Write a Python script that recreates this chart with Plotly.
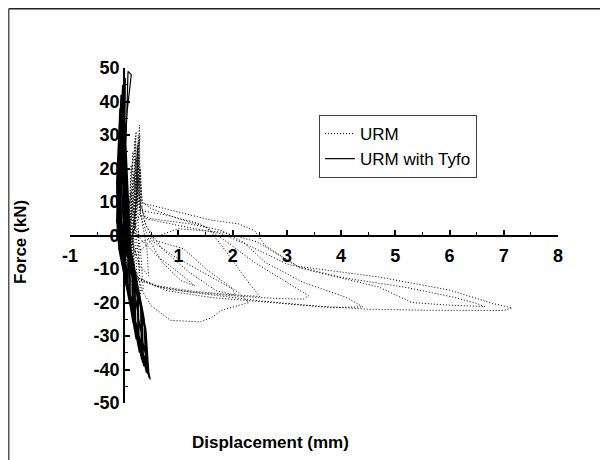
import plotly.graph_objects as go

# ---------------- data ----------------
# URM (unreinforced masonry) hysteresis: displacement (mm) and force (kN)
urm_disp = [
    0.00, 0.04, 0.07, 0.03, 0.01, 0.04, 0.06,
    0.09, 0.12, 0.07, 0.03, 0.08, 0.11,
    0.13, 0.17, 0.11, 0.05, 0.12, 0.18, 0.17,
    0.19, 0.21, 0.15, 0.07, 0.16, 0.28, 0.27,
    0.24, 0.24, 0.19, 0.12, 0.28, 0.45, 0.42,
    0.15, 0.22, 0.18, 0.10, 0.18, 0.24, 0.20,
    0.20, 0.26, 0.22, 0.14, 0.20, 0.30, 0.26,
    0.12, 0.16, 0.13, 0.06, 0.10, 0.15, 0.12,
    0.25, 0.29, 0.24, 0.15, 0.22, 0.35, 0.30,
    0.10, 0.13, 0.10, 0.04, 0.08, 0.14, 0.10,
    0.30, 0.28, 0.24, 0.19,
    # loop 1
    0.30, 0.60, 1.00, 1.30, 1.05, 0.70, 0.45, 0.30, 0.22, 0.20, 0.17, 0.10,
    # loop 2
    0.20, 0.50, 0.90, 1.50, 2.00, 2.05, 1.70, 1.20, 0.70, 0.40, 0.30, 0.27, 0.22, 0.12,
    # loop 3
    0.20, 0.35, 0.50, 0.85, 1.40, 1.60, 1.80, 2.30, 2.10, 1.53, 1.10, 0.53, 0.35, 0.30, 0.26, 0.20, 0.10,
    # loop 4
    0.20, 0.60, 1.20, 1.90, 2.50, 2.30, 1.82, 1.53, 1.00, 0.50, 0.33, 0.28, 0.22, 0.12,
    # loop 5
    0.20, 0.60, 1.20, 2.00, 2.80, 3.30, 3.40, 3.15, 2.80, 2.40, 1.90, 1.40, 0.80, 0.30, 0.25, 0.20, 0.10,
    # loop 6
    0.25, 0.80, 1.60, 2.50, 3.30, 3.80, 4.40, 4.10, 3.30, 2.60, 2.20, 1.80, 1.20, 0.50, 0.30, 0.25, 0.18, 0.10,
    # loop 7
    0.30, 1.00, 1.80, 2.45, 3.24, 4.70, 5.30, 6.00, 6.65, 6.50, 6.10, 5.20, 4.00, 3.00, 2.30, 1.80, 1.00, 0.40, 0.30, 0.25, 0.20, 0.12,
    # loop 8
    0.20, 0.80, 1.50, 2.50, 3.50, 4.50, 5.50, 6.50, 7.00, 7.15, 6.80, 6.00, 4.70, 3.20, 2.60, 2.40, 2.10, 1.60, 1.00, 0.33, 0.30, 0.22, 0.00,
]
urm_force = [
    0, 5, 9, 1, -3, -6, -1,
    7, 13, 3, -4, -9, -4,
    9, 18, 5, -3, -11, -9, -1,
    12, 23, 8, -2, -13, -11, -3,
    14, 27, 10, 0, -9, -12, -4,
    20, 31, 12, 0, -16, -14, -2,
    18, 28, 10, -4, -20, -18, -6,
    15, 25, 8, -6, -15, -12, 0,
    22, 30, 12, 2, -18, -16, -4,
    10, 21, 6, -8, -18, -16, -2,
    7, 33, 16, 4,
    # loop 1
    -1, -6, -11, -15, -13.5, -8, -1, 6, 19, 29, 12, 2,
    # loop 2
    -6, -1.5, -6, -11.5, -16, -17.8, -16.5, -11, -4, 3, 10, 24, 8, -2,
    # loop 3
    -10, -17, -21, -25.3, -25.8, -24.6, -22.3, -20, -17, -10.3, -4, -1.3, 5, 15, 30, 6, -4,
    # loop 4
    -12.4, -15, -16.5, -17.6, -18.2, -14.2, -3.5, 2.5, 5, 8, 10, 20, 5, -5,
    # loop 5
    -12, -15.2, -16.8, -18, -18.8, -19, -18, -15.4, -12, -8, -2, 3.5, 6, 7.5, 18, 4, -6,
    # loop 6
    -13, -16.5, -18.5, -19.8, -21, -21.5, -21.3, -18.5, -14, -8, -2, 1.5, 3.5, 5, 6, 22, 3, -7,
    # loop 7
    -2, 2, 1, -1.9, -9.7, -15.4, -20, -20.8, -21.2, -20.3, -18.5, -15.5, -12.5, -8.5, -3, 0.5, 3, 5, 9, 26, 4, -8,
    # loop 8
    -13, -16, -17.5, -19.5, -21, -22, -22.3, -22.5, -22.4, -21.6, -20.3, -16.3, -12.4, -9.2, -3, 1.5, 3.5, 4.6, 7, 9.7, 20, 5, 0,
]

# URM with Tyfo (FRP-retrofitted) hysteresis
tyfo_disp = [
    0.00, 0.00, 0.03, 0.02, 0.05, 0.02,
    -0.02, -0.04, 0.01, 0.06, 0.07, 0.03,
    -0.01, -0.05, -0.02, 0.07, 0.08, 0.03,
    -0.03, -0.07, -0.04, 0.10, 0.10, 0.04,
    -0.03, -0.08, -0.05, 0.11, 0.11, 0.05,
    -0.04, -0.09, -0.07, 0.00, 0.14, 0.15, 0.06,
    -0.04, -0.10, -0.08, 0.01, 0.16, 0.16, 0.07,
    -0.05, -0.10, -0.10, 0.02, 0.20, 0.19, 0.08,
    -0.05, -0.11, -0.10, 0.02, 0.22, 0.20, 0.09,
    -0.06, -0.12, -0.11, 0.05, 0.22, 0.20, 0.06,
    -0.07, -0.13, -0.12, 0.00, 0.18, 0.16, 0.04,
    -0.05, -0.12, -0.12, 0.03, 0.26, 0.24, 0.10,
    -0.05, -0.12, -0.12, 0.03, 0.28, 0.26, 0.10,
    -0.08, -0.14, -0.13, 0.02, 0.28, 0.25, 0.08,
    -0.04, -0.13, -0.13, 0.04, 0.32, 0.30, 0.10,
    -0.04, -0.13, -0.13, 0.04, 0.34, 0.31, 0.11,
    -0.06, -0.12, -0.14, 0.00, 0.36, 0.33, 0.10,
    -0.02, -0.12, -0.12, 0.06, 0.40, 0.36, 0.12,
    -0.02, -0.11, -0.12, 0.06, 0.41, 0.37, 0.12,
    -0.03, -0.10, -0.13, 0.05, 0.44, 0.40, 0.14,
    -0.09, -0.13, -0.10, 0.12, 0.10, 0.00,
    0.02, -0.10, -0.11, 0.08, 0.46, 0.40, 0.12, 0.00,
    0.07, 0.13, 0.06, -0.05, -0.10, 0.10, 0.48, 0.42, 0.30, 0.10, 0.00,
]
tyfo_force = [
    0, 8, 2, -8, -3, 1,
    14, 4, -3, -14, -5, 0,
    18, 5, -2, -17, -6, 0,
    20, 6, -2, -19, -8, 0,
    23, 7, -2, -21, -9, 0,
    26, 8, -2, -10, -24, -10, 0,
    28, 9, -2, -11, -26, -12, 0,
    31, 10, 0, -12, -29, -14, -1,
    33, 10, 0, -13, -31, -15, -1,
    30, 12, -2, -15, -30, -16, 0,
    34, 14, 0, -10, -27, -12, 2,
    36, 10, 0, -14, -33, -18, -2,
    38, 11, 0, -14, -35, -19, -2,
    38, 16, 2, -12, -34, -20, 0,
    40, 12, 0, -15, -37, -20, -3,
    41, 12, 0, -15, -38, -22, -3,
    42, 20, 4, -8, -39, -24, -2,
    44, 14, 0, -16, -40, -24, -4,
    45, 14, 0, -16, -41, -25, -4,
    45, 22, 5, -14, -41.5, -30, -8,
    25, 8, -4, -22, -10, 0,
    47, 18, 0, -18, -42.5, -28, -6, 10,
    49, 48, 38, 15, 0, -20, -43, -38, -28, -8, 0,
]

x_tick_vals = [-1, 0, 1, 2, 3, 4, 5, 6, 7, 8]
x_tick_text = ["-1", "", "1", "2", "3", "4", "5", "6", "7", "8"]
y_tick_vals = [-50, -40, -30, -20, -10, 0, 10, 20, 30, 40, 50]
y_tick_text = ["-50", "-40", "-30", "-20", "-10", "0", "10", "20", "30", "40", "50"]

# ---------------- figure ----------------
FONT = "Liberation Sans, Arial, sans-serif"
OFF = 8  # page body margin of the html page

fig = go.Figure()
fig.add_trace(go.Scatter(
    x=urm_disp, y=urm_force, mode="lines", name="URM",
    line=dict(color="black", width=1, dash="1px,2px"),
))
fig.add_trace(go.Scatter(
    x=tyfo_disp, y=tyfo_force, mode="lines", name="URM with Tyfo",
    line=dict(color="black", width=1.2),
))

W, H = 608 - OFF, 460 - OFF
# plot area in window pixels: x 70..558, y 68..403
L = 70 - OFF
T = 68 - OFF
pw = 558 - 70
ph = 403 - 68
R = W - L - pw
B = H - T - ph


def px_to_paper(px, py):
    fx, fy = px - OFF, py - OFF
    return (fx - L) / pw, (T + ph - fy) / ph


ltx, _ = px_to_paper(8.75, 0)
_, tpy = px_to_paper(0, 8.75)

fig.update_layout(
    width=W, height=H,
    margin=dict(l=L, r=R, t=T, b=B),
    paper_bgcolor="white", plot_bgcolor="white",
    font=dict(family=FONT, color="black"),
    showlegend=True,
    legend=dict(
        x=px_to_paper(319, 115)[0], y=px_to_paper(319, 115)[1],
        xanchor="left", yanchor="top",
        bgcolor="white", bordercolor="#444", borderwidth=1,
        font=dict(family=FONT, size=17, color="black"),
        tracegroupgap=0,
    ),
    xaxis=dict(
        range=[-1, 8], anchor="free", position=0.5,
        showgrid=False, zeroline=False,
        showline=True, linecolor="black", linewidth=2,
        tickmode="array", tickvals=x_tick_vals, ticktext=x_tick_text,
        ticks="inside", ticklen=5, tickwidth=1.5, tickcolor="black",
        ticklabelstandoff=4,
        minor=dict(ticks="inside", ticklen=3, tickwidth=1, tickcolor="black",
                   tickmode="linear", tick0=-0.5, dtick=1),
        tickfont=dict(family=FONT, size=18, color="black", weight="bold"),
    ),
    yaxis=dict(
        range=[-50, 50], anchor="free", position=1 / 9,
        showgrid=False, zeroline=False,
        showline=True, linecolor="black", linewidth=2,
        tickmode="array", tickvals=y_tick_vals, ticktext=y_tick_text,
        ticks="inside", ticklen=5, tickwidth=1.5, tickcolor="black",
        minor=dict(ticks="inside", ticklen=3, tickwidth=1, tickcolor="black",
                   tickmode="linear", tick0=-45, dtick=10),
        tickfont=dict(family=FONT, size=18, color="black", weight="bold"),
    ),
    shapes=[
        dict(type="line", xref="paper", yref="paper",
             x0=ltx, x1=ltx, y0=-0.5, y1=tpy,
             line=dict(color="#555", width=1.5)),
        dict(type="line", xref="paper", yref="paper",
             x0=ltx, x1=1.5, y0=tpy, y1=tpy,
             line=dict(color="#222", width=1.5)),
    ],
    annotations=[
        dict(text="Displacement (mm)", xref="paper", yref="paper",
             x=px_to_paper(270, 443)[0], y=px_to_paper(270, 443)[1],
             xanchor="center", yanchor="middle", showarrow=False,
             font=dict(family=FONT, size=17, color="black", weight="bold")),
        dict(text="Force (kN)", xref="paper", yref="paper",
             x=px_to_paper(20, 242)[0], y=px_to_paper(20, 242)[1],
             xanchor="center", yanchor="middle", showarrow=False, textangle=-90,
             font=dict(family=FONT, size=17, color="black", weight="bold")),
    ],
)

fig.write_html("out.html")
